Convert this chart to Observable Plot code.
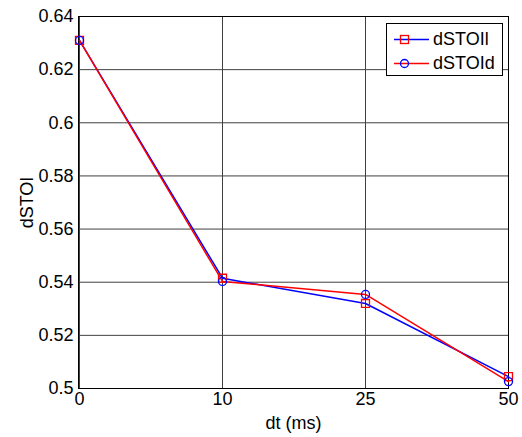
<!DOCTYPE html>
<html>
<head>
<meta charset="utf-8">
<script src="https://cdn.jsdelivr.net/npm/d3@7"></script>
<script src="https://cdn.jsdelivr.net/npm/@observablehq/plot@0.6"></script>
<style>
  html, body { margin: 0; padding: 0; background: white; }
  #wrap { position: relative; width: 522px; height: 437px; font-family: "Liberation Sans", Arial, sans-serif; }
  #legend { position: absolute; left: 386px; top: 23px; width: 115px; height: 51px; border: 1px solid black; background: white; box-sizing: content-box; }
  .row { position: absolute; left: 0; height: 24px; display: flex; align-items: center; }
  .row span { font-size: 18px; color: black; margin-left: 2px; }
</style>
</head>
<body>
<div id="wrap"></div>
<script>
const xLabels = ["0", "10", "25", "50"];
const dSTOIl = [0.631, 0.5415, 0.532, 0.5045];
const dSTOId = [0.631, 0.5403, 0.5354, 0.5026];
const yTicks = [0.5, 0.52, 0.54, 0.56, 0.58, 0.6, 0.62, 0.64];
const seriesNames = ["dSTOIl", "dSTOId"];

const dataL = xLabels.map((x, i) => ({x, y: dSTOIl[i]}));
const dataD = xLabels.map((x, i) => ({x, y: dSTOId[i]}));

const chart = Plot.plot({
  width: 522,
  height: 437,
  marginLeft: 78,
  marginRight: 14,
  marginTop: 16,
  marginBottom: 49,
  style: {fontFamily: "'Liberation Sans', Arial, sans-serif", fontSize: "18px", color: "black", background: "white"},
  x: {type: "point", domain: xLabels, padding: 0},
  y: {domain: [0.5, 0.64]},
  marks: [
    Plot.gridX(xLabels, {stroke: "#404040", strokeOpacity: 1}),
    Plot.gridY(yTicks, {stroke: "#404040", strokeOpacity: 1}),
    Plot.frame({stroke: "black"}),
    Plot.axisX(xLabels, {tickSize: 0, tickPadding: 4, label: "dt (ms)", labelAnchor: "center", labelArrow: "none", labelOffset: 40, fontSize: 18}),
    Plot.axisY(yTicks, {tickSize: 0, tickPadding: 5, tickFormat: d => String(+d.toFixed(2)), label: "dSTOI", labelAnchor: "center", labelArrow: "none", labelOffset: 58, fontSize: 18}),
    Plot.line(dataL, {x: "x", y: "y", stroke: "blue", strokeWidth: 1.5}),
    Plot.line(dataD, {x: "x", y: "y", stroke: "red", strokeWidth: 1.5}),
    Plot.dot(dataL, {x: "x", y: "y", symbol: "square", r: 4.5, stroke: "red", strokeWidth: 1.3, fill: "none"}),
    Plot.dot(dataD, {x: "x", y: "y", symbol: "circle", r: 4, stroke: "blue", strokeWidth: 1.3, fill: "none"})
  ]
});
const wrap = document.getElementById("wrap");
wrap.appendChild(chart);

const legend = document.createElement("div");
legend.id = "legend";
const styles = [
  {line: "blue", marker: "square", mstroke: "red"},
  {line: "red", marker: "circle", mstroke: "blue"}
];
seriesNames.forEach((name, i) => {
  const row = document.createElement("div");
  row.className = "row";
  row.style.top = (3 + i * 24) + "px";
  const s = styles[i];
  const m = s.marker === "square"
    ? `<rect x="13.5" y="8.5" width="8" height="8" fill="none" stroke="${s.mstroke}" stroke-width="1.3"/>`
    : `<circle cx="17.5" cy="12.5" r="4" fill="none" stroke="${s.mstroke}" stroke-width="1.3"/>`;
  row.innerHTML = `<svg width="44" height="24"><line x1="7" x2="42" y1="12.5" y2="12.5" stroke="${s.line}" stroke-width="1.5"/>${m}</svg><span>${name}</span>`;
  legend.appendChild(row);
});
wrap.appendChild(legend);
</script>
</body>
</html>
